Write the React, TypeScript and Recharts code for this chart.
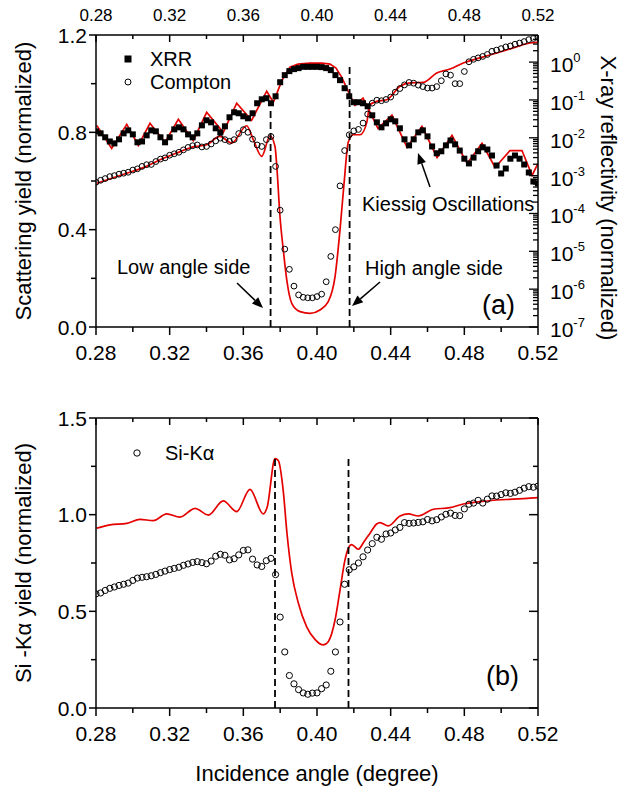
import React from 'react';
import { ComposedChart, Scatter, Line, XAxis, YAxis, ReferenceLine } from 'recharts';

const FONT = '"Liberation Sans", Arial, Helvetica, sans-serif';
const RED = '#e50000';

// incidence angle of the measured points (degree)
const angles = [
  0.28, 0.2825, 0.285, 0.2875, 0.29, 0.2925, 0.295, 0.2975, 0.3, 0.3025,
  0.305, 0.3075, 0.31, 0.3125, 0.315, 0.3175, 0.32, 0.3225, 0.325, 0.3275,
  0.33, 0.3325, 0.335, 0.3375, 0.34, 0.3425, 0.345, 0.3475, 0.35, 0.3525,
  0.355, 0.3575, 0.36, 0.3625, 0.365, 0.3675, 0.37, 0.3725, 0.375, 0.3775,
  0.38, 0.3825, 0.385, 0.3875, 0.39, 0.3925, 0.395, 0.3975, 0.4, 0.4025,
  0.405, 0.4075, 0.41, 0.4125, 0.415, 0.4175, 0.42, 0.4225, 0.425, 0.4275,
  0.43, 0.4325, 0.435, 0.4375, 0.44, 0.4425, 0.445, 0.4475, 0.45, 0.4525,
  0.455, 0.4575, 0.46, 0.4625, 0.465, 0.4675, 0.47, 0.4725, 0.475, 0.4775,
  0.48, 0.4825, 0.485, 0.4875, 0.49, 0.4925, 0.495, 0.4975, 0.5, 0.5025,
  0.505, 0.5075, 0.51, 0.5125, 0.515, 0.5175, 0.52,
];

// X-ray reflectivity, measured (right log axis)
const xrrValues = [
  0.0148, 0.0131, 0.0103, 0.008, 0.0071, 0.0091, 0.0131, 0.0157, 0.0123, 0.0076,
  0.008, 0.0116, 0.0157, 0.0148, 0.0103, 0.0076, 0.0103, 0.0167, 0.0189, 0.0167,
  0.0123, 0.0103, 0.0131, 0.0213, 0.029, 0.0256, 0.0178, 0.0139, 0.0201, 0.0348,
  0.0472, 0.0444, 0.037, 0.0327, 0.0444, 0.0817, 0.104, 0.111, 0.0817, 0.125,
  0.294, 0.452, 0.577, 0.652, 0.693, 0.75, 0.75, 0.75, 0.75, 0.737,
  0.693, 0.614, 0.452, 0.333, 0.204, 0.125, 0.0869, 0.0869, 0.0817, 0.0681,
  0.0393, 0.0256, 0.0189, 0.0241, 0.0308, 0.0272, 0.0178, 0.0091, 0.0063, 0.0091,
  0.0139, 0.0157, 0.0109, 0.0059, 0.0039, 0.0044, 0.0063, 0.0085, 0.0067, 0.0046,
  0.0028, 0.0021, 0.003, 0.0044, 0.0056, 0.0049, 0.0034, 0.00185, 0.00114, 0.00154,
  0.0028, 0.0034, 0.0028, 0.00197, 0.00121, 0.0007, 0.00062,
];

// Compton scattering yield, measured (left axis)
const comptonValues = [
  0.595, 0.603, 0.61, 0.618, 0.622, 0.628, 0.632, 0.636, 0.645, 0.65,
  0.66, 0.667, 0.668, 0.68, 0.69, 0.695, 0.706, 0.712, 0.718, 0.728,
  0.738, 0.745, 0.748, 0.74, 0.742, 0.752, 0.765, 0.776, 0.77, 0.763,
  0.77, 0.795, 0.811, 0.8, 0.772, 0.748, 0.742, 0.77, 0.783, 0.66,
  0.48, 0.32, 0.237, 0.168, 0.132, 0.122, 0.12, 0.12, 0.125, 0.135,
  0.186, 0.29, 0.4, 0.58, 0.725, 0.79, 0.806, 0.812, 0.838, 0.875,
  0.92, 0.932, 0.93, 0.935, 0.945, 0.965, 0.98, 0.995, 1.005, 1.002,
  0.994, 0.988, 0.982, 0.982, 0.988, 1.012, 1.04, 1.035, 1.0, 1.0,
  1.05, 1.09, 1.1, 1.106, 1.112, 1.12, 1.133, 1.138, 1.144, 1.151,
  1.155, 1.162, 1.167, 1.173, 1.181, 1.186, 1.19,
];

// Si-Ka yield, measured (panel b)
const siValues = [
  0.59, 0.595, 0.608, 0.619, 0.626, 0.634, 0.64, 0.646, 0.66, 0.672,
  0.676, 0.679, 0.684, 0.691, 0.7, 0.708, 0.716, 0.722, 0.728, 0.738,
  0.745, 0.753, 0.757, 0.752, 0.746, 0.76, 0.785, 0.795, 0.79, 0.766,
  0.772, 0.792, 0.815, 0.818, 0.77, 0.74, 0.732, 0.762, 0.774, 0.69,
  0.47, 0.29, 0.168, 0.125, 0.095, 0.078, 0.071, 0.077, 0.078, 0.1,
  0.119, 0.19, 0.29, 0.445, 0.64, 0.715, 0.73, 0.75, 0.782, 0.817,
  0.85, 0.883, 0.873, 0.9, 0.905, 0.921, 0.934, 0.959, 0.955, 0.957,
  0.96, 0.963, 0.975, 0.968, 0.974, 0.988, 1.002, 1.008, 0.996, 0.995,
  1.03, 1.054, 1.06, 1.074, 1.06, 1.08, 1.097, 1.096, 1.104, 1.113,
  1.11, 1.116, 1.126, 1.137, 1.145, 1.142, 1.148,
];

// XRR fit (red)
const xrrFitAngles = [
  0.2804, 0.2885, 0.2967, 0.303, 0.3093, 0.3175, 0.3247, 0.3328, 0.3401, 0.3491,
  0.3564, 0.3645, 0.3727, 0.3763, 0.381, 0.3853, 0.3897, 0.3962, 0.4027, 0.4071,
  0.4103, 0.4134, 0.4179, 0.4206, 0.425, 0.4331, 0.4407, 0.4489, 0.457, 0.4652,
  0.4733, 0.4815, 0.4896, 0.4967, 0.5048, 0.5113, 0.5168, 0.52,
];
const xrrFitValues = [
  0.0213, 0.00523, 0.0227, 0.0063, 0.0241, 0.0076, 0.0308, 0.0085, 0.0472, 0.0139,
  0.0817, 0.029, 0.17, 0.0869, 0.333, 0.737, 0.885, 0.94, 0.94, 0.885,
  0.693, 0.4, 0.133, 0.0723, 0.111, 0.0178, 0.0393, 0.0056, 0.0201, 0.003,
  0.0116, 0.0021, 0.0071, 0.00164, 0.0046, 0.0046, 0.00101, 0.0021,
];

// Compton fit (red)
const comptonFitAngles = [
  0.2804, 0.2967, 0.3057, 0.3148, 0.3238, 0.3328, 0.3401, 0.3473, 0.3537, 0.3618,
  0.3654, 0.37, 0.3745, 0.3772, 0.3783, 0.3799, 0.3817, 0.3836, 0.3863, 0.3908,
  0.3962, 0.4016, 0.4061, 0.4098, 0.4125, 0.4147, 0.417, 0.4197, 0.4234, 0.427,
  0.4288, 0.4324, 0.4379, 0.4451, 0.4505, 0.4577, 0.465, 0.4722, 0.4794, 0.4885,
  0.4976, 0.5066, 0.5157, 0.52,
];
const comptonFitValues = [
  0.591, 0.632, 0.655, 0.687, 0.715, 0.74, 0.749, 0.783, 0.756, 0.827,
  0.77, 0.701, 0.786, 0.742, 0.646, 0.454, 0.317, 0.193, 0.0975, 0.063,
  0.056, 0.07, 0.104, 0.207, 0.4, 0.591, 0.76, 0.79, 0.79, 0.84,
  0.914, 0.927, 0.934, 0.989, 1.003, 1.005, 1.044, 1.06, 1.085, 1.106,
  1.126, 1.147, 1.167, 1.17,
];

// Si-Ka fit (red)
const siFitAngles = [
  0.2804, 0.2876, 0.2967, 0.3039, 0.3111, 0.3184, 0.3256, 0.3338, 0.341, 0.3491,
  0.3564, 0.3636, 0.3708, 0.373, 0.3772, 0.379, 0.3817, 0.3837, 0.3863, 0.3899,
  0.3944, 0.3989, 0.4034, 0.4061, 0.4098, 0.4125, 0.4152, 0.417, 0.4188, 0.4224,
  0.4255, 0.4288, 0.4324, 0.4342, 0.4387, 0.4451, 0.4496, 0.455, 0.4632, 0.4722,
  0.4794, 0.4885, 0.4976, 0.5066, 0.52,
];
const siFitValues = [
  0.93, 0.947, 0.955, 0.976, 0.969, 1.004, 0.987, 1.033, 0.998, 1.071,
  1.016, 1.131, 1.004, 1.041, 1.29, 1.28, 1.12, 0.904, 0.697, 0.542,
  0.42, 0.355, 0.326, 0.343, 0.455, 0.61, 0.766, 0.826, 0.845, 0.821,
  0.86, 0.904, 0.952, 0.959, 0.942, 0.993, 1.004, 0.993, 1.028, 1.036,
  1.055, 1.067, 1.076, 1.08, 1.088,
];

// axis ticks
const xTicks = [0.28, 0.3, 0.32, 0.34, 0.36, 0.38, 0.4, 0.42, 0.44, 0.46, 0.48, 0.5, 0.52];
const scatterTicks = [0, 0.2, 0.4, 0.6, 0.8, 1.0, 1.2];
const siTicks = [0, 0.25, 0.5, 0.75, 1.0, 1.25, 1.5];
const reflDecades = [-7, -6, -5, -4, -3, -2, -1, 0];
const reflTicks: number[] = [];
reflDecades.forEach((n) => {
  for (let k = 1; k <= 9; k++) {
    const v = k * Math.pow(10, n);
    if (v <= 5.2) reflTicks.push(v);
  }
});

const pair = (xs: number[], ys: number[]) => xs.map((x, i) => ({ x, y: ys[i] }));
const xrrData = pair(angles, xrrValues);
const comptonData = pair(angles, comptonValues);
const siData = pair(angles, siValues);
const xrrFit = pair(xrrFitAngles, xrrFitValues);
const comptonFit = pair(comptonFitAngles, comptonFitValues);
const siFit = pair(siFitAngles, siFitValues);

const isMajorX = (v: number) => Math.round(v * 100) % 4 === 0;

function BottomTick(props: any) {
  const { x, y, payload } = props;
  const major = isMajorX(payload.value);
  return (
    <g>
      <line x1={x} x2={x} y1={y} y2={y + (major ? 8 : 5)} stroke="#000" strokeWidth={1.5} />
      {major && (
        <text x={x} y={y + 25} textAnchor="middle" dominantBaseline="central" fontSize={21} fontFamily={FONT} fill="#000">
          {payload.value.toFixed(2)}
        </text>
      )}
    </g>
  );
}

function TopTick(props: any) {
  const { x, y, payload, showLabel } = props;
  const major = isMajorX(payload.value);
  return (
    <g>
      <line x1={x} x2={x} y1={y} y2={y + (major ? 7 : 4)} stroke="#000" strokeWidth={1.5} />
      {major && showLabel && (
        <text x={x} y={y - 20} textAnchor="middle" dominantBaseline="central" fontSize={17} fontFamily={FONT} fill="#000">
          {payload.value.toFixed(2)}
        </text>
      )}
    </g>
  );
}

function LeftTick(props: any) {
  const { x, y, payload, step } = props;
  const major = Math.round(payload.value / step) % 2 === 0;
  return (
    <g>
      <line x1={x} x2={x - (major ? 7 : 5)} y1={y} y2={y} stroke="#000" strokeWidth={1.5} />
      {major && (
        <text x={x - 9} y={y} textAnchor="end" dominantBaseline="central" fontSize={21} fontFamily={FONT} fill="#000">
          {payload.value.toFixed(1)}
        </text>
      )}
    </g>
  );
}

function ReflTick(props: any) {
  const { x, y, payload } = props;
  const lg = Math.log10(payload.value);
  const major = Math.abs(lg - Math.round(lg)) < 1e-6;
  return (
    <g>
      <line x1={x} x2={x - (major ? 9 : 5)} y1={y} y2={y} stroke="#000" strokeWidth={1.3} />
      {major && (
        <text x={x + 12} y={y + 10} fontSize={21} fontFamily={FONT} fill="#000">
          10
          <tspan dy={-10} fontSize={13}>{Math.round(lg)}</tspan>
        </text>
      )}
    </g>
  );
}

function RightTick(props: any) {
  const { x, y, payload } = props;
  const major = Math.round(payload.value / 0.25) % 2 === 0;
  return <line x1={x} x2={x - (major ? 9 : 5)} y1={y} y2={y} stroke="#000" strokeWidth={1.5} />;
}

const Square = (p: any) => <rect x={p.cx - 3} y={p.cy - 3} width={6} height={6} fill="#000" />;
const Ring = (p: any) => <circle cx={p.cx} cy={p.cy} r={2.9} fill="none" stroke="#000" strokeWidth={1} />;
const RingB = (p: any) => <circle cx={p.cx} cy={p.cy} r={3.1} fill="none" stroke="#000" strokeWidth={1} />;

const axisLine = { stroke: '#000', strokeWidth: 1.5 };
const dash = { stroke: '#000', strokeWidth: 1.8, strokeDasharray: '7 4' };

function Arrow({ x1, y1, x2, y2 }: { x1: number; y1: number; x2: number; y2: number }) {
  const a = Math.atan2(y2 - y1, x2 - x1);
  const L = 11;
  const W = 4.5;
  const bx = x2 - L * Math.cos(a);
  const by = y2 - L * Math.sin(a);
  const px = -Math.sin(a) * W;
  const py = Math.cos(a) * W;
  return (
    <g>
      <line x1={x1} y1={y1} x2={bx} y2={by} stroke="#000" strokeWidth={1.5} />
      <polygon points={`${x2},${y2} ${bx + px},${by + py} ${bx - px},${by - py}`} fill="#000" />
    </g>
  );
}

export default function App() {
  const txt = { fontFamily: FONT, fill: '#000' } as const;
  return (
    <div style={{ position: 'absolute', left: 0, top: 0, width: 629, height: 789, background: '#fff' }}>
      <div style={{ position: 'absolute', left: 0, top: 0 }}>
        <ComposedChart width={629} height={400} margin={{ top: 5, left: 36, right: 31, bottom: 43 }}>
          <XAxis xAxisId="bottom" dataKey="x" type="number" domain={[0.28, 0.52]} ticks={xTicks} interval={0}
            allowDataOverflow height={30} tickSize={0} tickMargin={0} tickLine={false} axisLine={axisLine} tick={<BottomTick />} />
          <XAxis xAxisId="top" orientation="top" dataKey="x" type="number" domain={[0.28, 0.52]} ticks={xTicks} interval={0}
            allowDataOverflow height={30} tickSize={0} tickMargin={0} tickLine={false} axisLine={axisLine} tick={<TopTick showLabel />} />
          <YAxis yAxisId="left" dataKey="y" type="number" domain={[0, 1.2]} ticks={scatterTicks} interval={0}
            allowDataOverflow width={60} tickSize={0} tickMargin={0} tickLine={false} axisLine={axisLine} tick={<LeftTick step={0.2} />} />
          <YAxis yAxisId="refl" orientation="right" dataKey="y" type="number" scale="log" domain={[1e-7, 5.2]} ticks={reflTicks}
            interval={0} allowDataOverflow width={60} tickSize={0} tickMargin={0} tickLine={false} axisLine={axisLine} tick={<ReflTick />} />
          <Scatter xAxisId="bottom" yAxisId="refl" data={xrrData} shape={Square} isAnimationActive={false} />
          <Scatter xAxisId="bottom" yAxisId="left" data={comptonData} shape={Ring} isAnimationActive={false} />
          <Line xAxisId="bottom" yAxisId="refl" data={xrrFit} dataKey="y" type="linear" stroke={RED} strokeWidth={1.7}
            dot={false} isAnimationActive={false} />
          <Line xAxisId="bottom" yAxisId="left" data={comptonFit} dataKey="y" type="monotone" stroke={RED} strokeWidth={1.7}
            dot={false} isAnimationActive={false} />
          <ReferenceLine xAxisId="bottom" yAxisId="left" segment={[{ x: 0.3748, y: 0 }, { x: 0.3748, y: 0.9 }]} {...dash} />
          <ReferenceLine xAxisId="bottom" yAxisId="left" segment={[{ x: 0.4177, y: 0 }, { x: 0.4177, y: 1.08 }]} {...dash} />
        </ComposedChart>
      </div>
      <div style={{ position: 'absolute', left: 0, top: 400 }}>
        <ComposedChart width={629} height={389} margin={{ top: 8, left: 36, right: 31, bottom: 51 }}>
          <XAxis xAxisId="bottom" dataKey="x" type="number" domain={[0.28, 0.52]} ticks={xTicks} interval={0}
            allowDataOverflow height={30} tickSize={0} tickMargin={0} tickLine={false} axisLine={axisLine} tick={<BottomTick />} />
          <XAxis xAxisId="top" orientation="top" dataKey="x" type="number" domain={[0.28, 0.52]} ticks={xTicks} interval={0}
            allowDataOverflow height={10} tickSize={0} tickMargin={0} tickLine={false} axisLine={axisLine} tick={<TopTick />} />
          <YAxis yAxisId="left" dataKey="y" type="number" domain={[0, 1.5]} ticks={siTicks} interval={0}
            allowDataOverflow width={60} tickSize={0} tickMargin={0} tickLine={false} axisLine={axisLine} tick={<LeftTick step={0.25} />} />
          <YAxis yAxisId="right" orientation="right" dataKey="y" type="number" domain={[0, 1.5]} ticks={siTicks} interval={0}
            allowDataOverflow width={60} tickSize={0} tickMargin={0} tickLine={false} axisLine={axisLine} tick={<RightTick />} />
          <Scatter xAxisId="bottom" yAxisId="left" data={siData} shape={RingB} isAnimationActive={false} />
          <Line xAxisId="bottom" yAxisId="left" data={siFit} dataKey="y" type="monotone" stroke={RED} strokeWidth={1.7}
            dot={false} isAnimationActive={false} />
          <ReferenceLine xAxisId="bottom" yAxisId="left" segment={[{ x: 0.3772, y: 0 }, { x: 0.3772, y: 1.29 }]} {...dash} />
          <ReferenceLine xAxisId="bottom" yAxisId="left" segment={[{ x: 0.4171, y: 0 }, { x: 0.4171, y: 1.3 }]} {...dash} />
        </ComposedChart>
      </div>
      <svg width={629} height={789} style={{ position: 'absolute', left: 0, top: 0, pointerEvents: 'none' }}>
        {/* legend, panel a */}
        <rect x={124.5} y={55.5} width={7} height={7} fill="#000" />
        <text x={150} y={59} dominantBaseline="central" fontSize={20} {...txt}>XRR</text>
        <circle cx={128} cy={82} r={3} fill="none" stroke="#000" strokeWidth={1} />
        <text x={150} y={82} dominantBaseline="central" fontSize={20} {...txt}>Compton</text>

        <text x={362} y={204} dominantBaseline="central" fontSize={20} {...txt}>Kiessig Oscillations</text>
        <Arrow x1={430} y1={187} x2={418} y2={153} />
        <text x={117} y={267} dominantBaseline="central" fontSize={20} {...txt}>Low angle side</text>
        <Arrow x1={237} y1={283} x2={263} y2={308} />
        <text x={365} y={268} dominantBaseline="central" fontSize={20} {...txt}>High angle side</text>
        <Arrow x1={380} y1={282} x2={352} y2={306} />
        <text x={482} y={305} dominantBaseline="central" fontSize={27} {...txt}>(a)</text>

        {/* legend, panel b */}
        <circle cx={137} cy={453} r={3.2} fill="none" stroke="#000" strokeWidth={1} />
        <text x={165} y={453} dominantBaseline="central" fontSize={20} {...txt}>Si-Kα</text>
        <text x={486} y={676} dominantBaseline="central" fontSize={27} {...txt}>(b)</text>

        {/* axis titles */}
        <text transform="translate(23,181) rotate(-90)" textAnchor="middle" dominantBaseline="central" fontSize={22} {...txt}>
          Scattering yield (normalized)
        </text>
        <text transform="translate(608,198) rotate(90)" textAnchor="middle" dominantBaseline="central" fontSize={22} {...txt}>
          X-ray reflectivity (normalized)
        </text>
        <text transform="translate(23,563) rotate(-90)" textAnchor="middle" dominantBaseline="central" fontSize={22} {...txt}>
          Si -Kα yield (normalized)
        </text>
        <text x={317} y={773} textAnchor="middle" dominantBaseline="central" fontSize={22} {...txt}>
          Incidence angle (degree)
        </text>
      </svg>
    </div>
  );
}
